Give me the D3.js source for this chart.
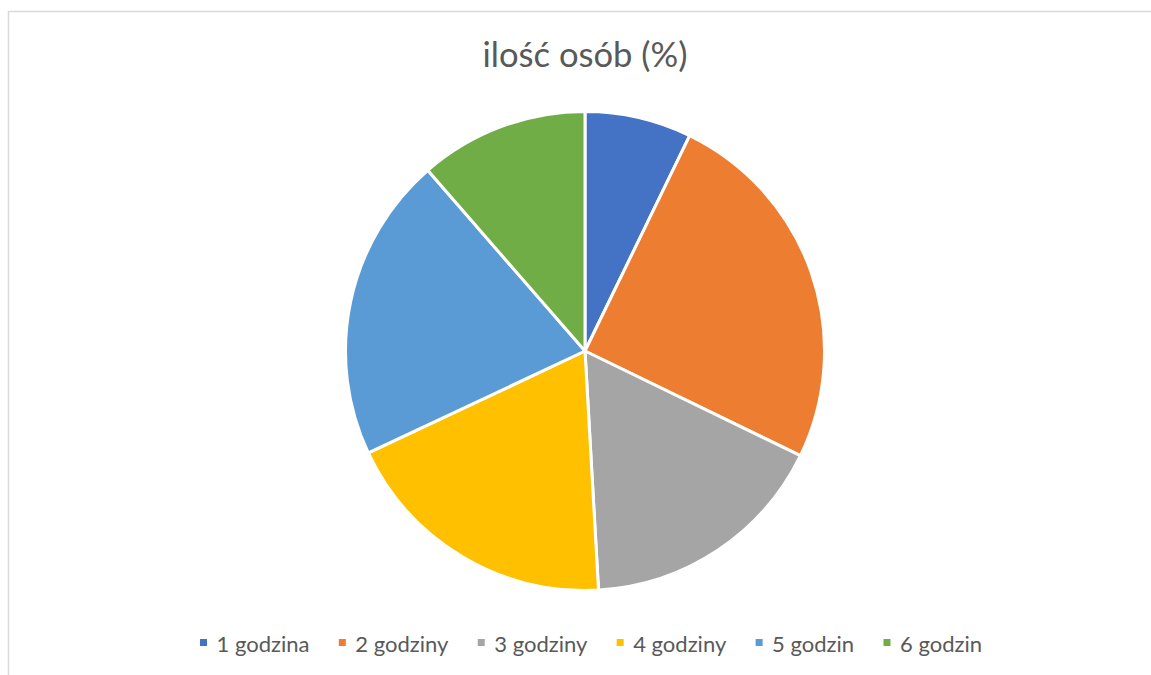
<!DOCTYPE html>
<html><head><meta charset="utf-8">
<script src="https://cdn.jsdelivr.net/npm/d3@7"></script>
<style>html,body{margin:0;padding:0;background:#fff;}svg{display:block;}</style>
</head><body>
<svg id="chart" width="1151" height="675"></svg>
<script>
const title = "ilość osób (%)";
const categories = ["1 godzina", "2 godziny", "3 godziny", "4 godziny", "5 godzin", "6 godzin"];
const values = [7.2, 25.0, 16.9, 18.9, 20.6, 11.4];
const colors = ["#4472C4", "#ED7D31", "#A5A5A5", "#FFC000", "#5B9BD5", "#70AD47"];

const W = 1151, H = 675;
const svg = d3.select("#chart");
const font = "Lato, 'Open Sans', sans-serif";

// chart border
svg.append("rect").attr("x", 8.5).attr("y", 11.5).attr("width", W + 10).attr("height", H + 10)
  .attr("fill", "none").attr("stroke", "#d9d9d9").attr("stroke-width", 1.5);

// title
const t = svg.append("text").attr("x", 585).attr("y", 67).attr("text-anchor", "middle")
  .attr("font-family", font).attr("fill", "#595959").attr("font-size", 30).text(title);
const tw = t.node().getComputedTextLength();
t.attr("font-size", 30 * 205 / tw);

// pie
const cx = 585, cy = 351, r = 239.5;
const color = d3.scaleOrdinal().domain(categories).range(colors);
const pie = d3.pie().sort(null).value(d => d.v);
const arc = d3.arc().innerRadius(0).outerRadius(r);
const data = categories.map((c, i) => ({ c, v: values[i] }));
svg.append("g").attr("transform", `translate(${cx},${cy})`)
  .selectAll("path").data(pie(data)).join("path")
  .attr("d", arc).attr("fill", d => color(d.data.c))
  .attr("stroke", "#fff").attr("stroke-width", 3).attr("stroke-linejoin", "round");

// legend
const lg = svg.append("g");
const items = lg.selectAll("g").data(categories).join("g");
items.append("rect").attr("width", 7).attr("height", 7).attr("y", -13).attr("fill", d => color(d));
const lt = items.append("text").attr("x", 16.5).attr("y", 0).attr("font-family", font)
  .attr("fill", "#595959").attr("font-size", 20).text(d => d);
const w0 = lt.nodes()[0].getComputedTextLength();
lt.attr("font-size", 20 * 93 / w0);
const widths = lt.nodes().map(n => n.getComputedTextLength());
const legendLeft = 200, legendRight = 982;
const gap = (legendRight - legendLeft - d3.sum(widths) - widths.length * 16.5) / (widths.length - 1);
let x = legendLeft;
const xs = [];
widths.forEach(w => { xs.push(x); x += 16.5 + w + gap; });
items.attr("transform", (d, i) => `translate(${xs[i]},${652})`);
</script>
</body></html>
